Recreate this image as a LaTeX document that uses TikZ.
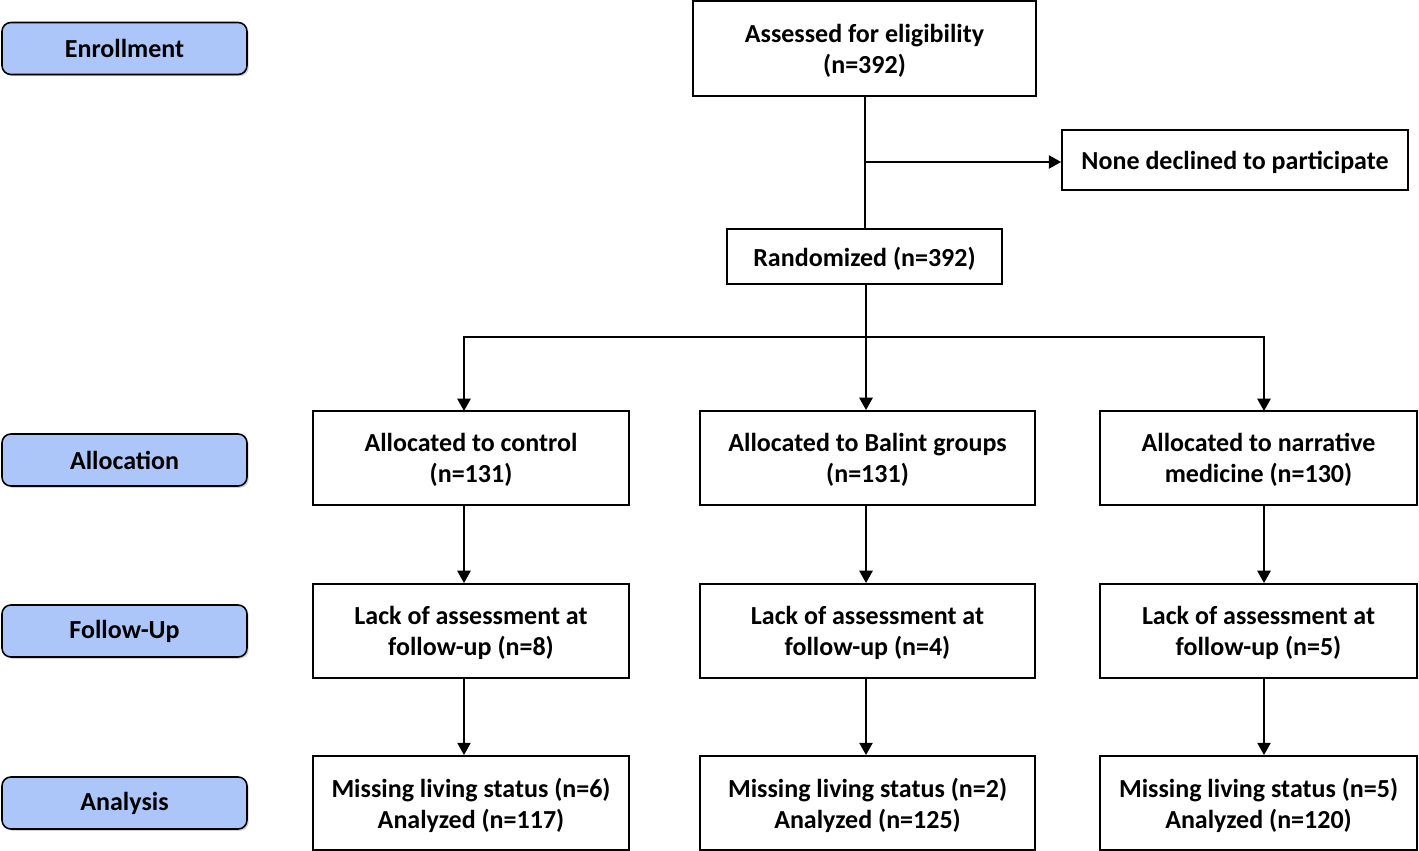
\documentclass[tikz,border=0pt]{standalone}
\usepackage{fontspec}
\setmainfont{Carlito}
\usetikzlibrary{arrows.meta,shadows}
\definecolor{stageblue}{HTML}{ADC6F9}
\begin{document}
\begin{tikzpicture}[x=0.02cm,y=-0.02cm]
        \tikzstyle{every node}=[font=\fontsize{14.8}{17.6}\selectfont\bfseries, text=black, align=center, inner sep=0pt]
        \tikzstyle{box}=[rectangle, draw=black, line width=1.1pt, text depth=0pt]
        \tikzstyle{stage}=[rectangle, rounded corners=5pt, draw=black, line width=0.9pt, fill=stageblue, minimum width=4.9cm, minimum height=1.04cm, drop shadow={shadow xshift=1pt, shadow yshift=-1pt, opacity=0.35}]
        \tikzstyle{edge}=[line width=1.2pt, -{Triangle[length=7pt, width=7.5pt]}]
        \useasboundingbox (0,0) rectangle (1419,851);

        % stages on the left
        \node[stage] (enrol) at (124.5,48.5) {Enrollment};
        \node[stage] (alloc) at (124.5,460)  {Allocation};
        \node[stage] (follow) at (124.5,631) {Follow-Up};
        \node[stage] (analys) at (124.5,803) {Analysis};

        % top part
        \node[box, minimum width=6.86cm, minimum height=1.9cm] (assess) at (864.5,48.5) {Assessed for eligibility\\(n=392)};
        \node[box, minimum width=6.92cm, minimum height=1.2cm] (decline) at (1235,160) {None declined to participate};
        \node[box, minimum width=5.5cm, minimum height=1.1cm] (rand) at (864.5,256.5) {Randomized (n=392)};

        % three arms
        \node[box, minimum width=6.32cm, minimum height=1.88cm] (ctrl) at (471,458) {Allocated to control\\(n=131)};
        \node[box, minimum width=6.7cm, minimum height=1.88cm] (balint) at (867.5,458) {Allocated to Balint groups\\(n=131)};
        \node[box, minimum width=6.34cm, minimum height=1.88cm] (narr) at (1258.5,458) {Allocated to narrative\\medicine (n=130)};

        \node[box, minimum width=6.32cm, minimum height=1.88cm] (ctrlfu) at (471,631) {Lack of assessment at\\follow-up (n=8)};
        \node[box, minimum width=6.7cm, minimum height=1.88cm] (balintfu) at (867.5,631) {Lack of assessment at\\follow-up (n=4)};
        \node[box, minimum width=6.34cm, minimum height=1.88cm] (narrfu) at (1258.5,631) {Lack of assessment at\\follow-up (n=5)};

        \node[box, minimum width=6.32cm, minimum height=1.88cm] (ctrlan) at (471,803) {Missing living status (n=6)\\Analyzed (n=117)};
        \node[box, minimum width=6.7cm, minimum height=1.88cm] (balintan) at (867.5,803) {Missing living status (n=2)\\Analyzed (n=125)};
        \node[box, minimum width=6.34cm, minimum height=1.88cm] (narran) at (1258.5,803) {Missing living status (n=5)\\Analyzed (n=120)};

        \coordinate (split) at (865,162);
        \coordinate (fork) at (866,337);

        \draw[line width=1.2pt] (assess.south -| split) -- (rand.north -| split);
        \draw[edge] (split) -- (decline.west |- split);
        \draw[edge] (rand.south -| fork) -- (balint.north -| fork);
        \draw[edge] (fork) -| (464,411);
        \draw[edge] (fork) -| (1264,411);

        \draw[edge] (ctrl.south -| 464,0) -- (ctrlfu.north -| 464,0);
        \draw[edge] (balint.south -| fork) -- (balintfu.north -| fork);
        \draw[edge] (narr.south -| 1264,0) -- (narrfu.north -| 1264,0);

        \draw[edge] (ctrlfu.south -| 464,0) -- (ctrlan.north -| 464,0);
        \draw[edge] (balintfu.south -| fork) -- (balintan.north -| fork);
        \draw[edge] (narrfu.south -| 1264,0) -- (narran.north -| 1264,0);
\end{tikzpicture}
\end{document}
